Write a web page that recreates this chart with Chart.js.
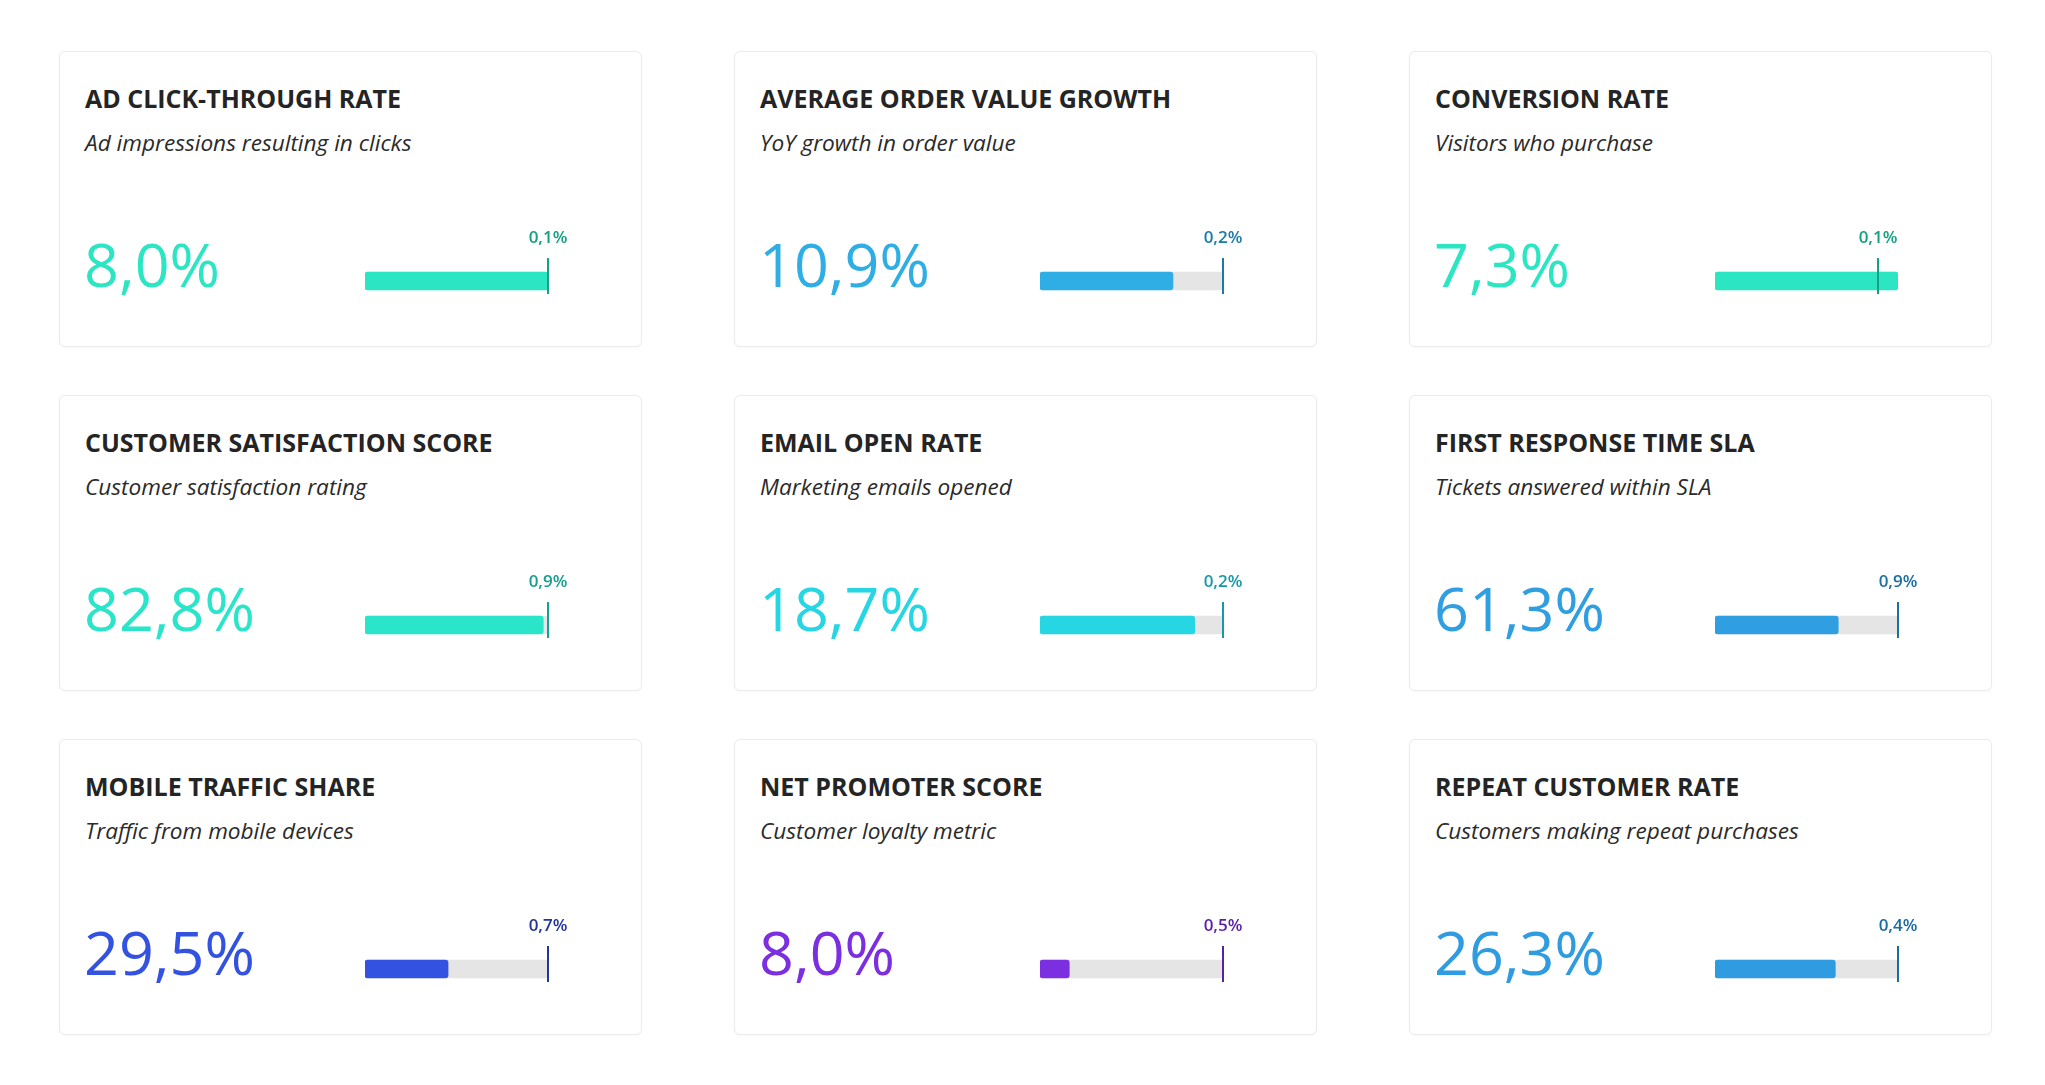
<!DOCTYPE html>
<html>
<head>
<meta charset="utf-8">
<script src="https://cdn.jsdelivr.net/npm/chart.js@4.4.1/dist/chart.umd.min.js"></script>
<style>
  body { margin: 0; background: #fff; font-family: 'Open Sans', sans-serif; }
  #board { position: relative; width: 2045px; height: 1085px; }
  .card {
    position: absolute; width: 581px; height: 294px;
    border: 1px solid #ebebeb; border-radius: 6px; background: #fff;
    box-shadow: 0 1px 2px rgba(0,0,0,0.03);
  }
  .card .title {
    position: absolute; left: 25px; top: 34px; line-height: 1;
    font-size: 25px; font-weight: 700; color: #242424; white-space: nowrap;
  }
  .card .sub {
    position: absolute; left: 25px; top: 80px; line-height: 1;
    font-size: 22.6px; font-style: italic; color: #2a2a2a; white-space: nowrap;
  }
  .card .big {
    position: absolute; left: 24px; top: 181px; line-height: 1;
    font-size: 61px; font-weight: 400; white-space: nowrap;
  }
  .card canvas { position: absolute; left: 290px; top: 170px; }
</style>
</head>
<body>
<div id="board"></div>
<script>
const titles = ['AD CLICK-THROUGH RATE', 'AVERAGE ORDER VALUE GROWTH', 'CONVERSION RATE',
  'CUSTOMER SATISFACTION SCORE', 'EMAIL OPEN RATE', 'FIRST RESPONSE TIME SLA',
  'MOBILE TRAFFIC SHARE', 'NET PROMOTER SCORE', 'REPEAT CUSTOMER RATE']
const subtitles = ['Ad impressions resulting in clicks', 'YoY growth in order value', 'Visitors who purchase',
  'Customer satisfaction rating', 'Marketing emails opened', 'Tickets answered within SLA',
  'Traffic from mobile devices', 'Customer loyalty metric', 'Customers making repeat purchases']
const values = [8.0, 10.9, 7.3, 82.8, 18.7, 61.3, 29.5, 8.0, 26.3]
const targets = [8.0, 15.0, 6.5, 85, 22.1, 91, 65, 50, 40]
const deltas = [0.1, 0.2, 0.1, 0.9, 0.2, 0.9, 0.7, 0.5, 0.4]

const colors = ['#2be5c3', '#2eaee4', '#2be5c3', '#2ae5c9', '#27d6e3', '#2f9fe2', '#3452e1', '#7b2fe1', '#2f9be0']
const darkColors = ['#13a083', '#1a7aa8', '#13a083', '#17a08f', '#1699a6', '#1b6fa5', '#22349e', '#5a1fa8', '#1c6aa3']

const pct = v => v.toFixed(1).replace('.', ',') + '%'

// vertical target line + label, placed with the chart's own x scale
const targetMarker = {
    id: 'targetMarker',
    afterDatasetsDraw(chart, args, opts) {
        const ctx = chart.ctx
        const x = Math.round(chart.scales.x.getPixelForValue(opts.target))
        const c = chart.scales.y.getPixelForValue(0)
        ctx.save()
        ctx.strokeStyle = opts.color
        ctx.lineWidth = 2
        ctx.beginPath()
        ctx.moveTo(x, c - 23)
        ctx.lineTo(x, c + 13)
        ctx.stroke()
        ctx.fillStyle = opts.color
        ctx.font = '600 17px "Open Sans"'
        ctx.textAlign = 'center'
        ctx.textBaseline = 'alphabetic'
        ctx.fillText(opts.label, x, c - 38)
        ctx.restore()
    }
}

const board = document.getElementById('board')
const lefts = [59, 734, 1409]
const tops = [51, 395, 739]

titles.forEach((t, i) => {
    const card = document.createElement('div')
    card.className = 'card'
    card.style.left = lefts[i % 3] + 'px'
    card.style.top = tops[Math.floor(i / 3)] + 'px'
    card.innerHTML = '<div class="title">' + t + '</div>' +
        '<div class="sub">' + subtitles[i] + '</div>' +
        '<div class="big" style="color:' + colors[i] + '">' + pct(values[i]) + '</div>' +
        '<canvas width="240" height="80"></canvas>'
    board.appendChild(card)

    const max = Math.max(values[i], targets[i])
    new Chart(card.querySelector('canvas'), {
        type: 'bar',
        data: {
            labels: [''],
            datasets: [
                {
                    data: [values[i]],
                    backgroundColor: colors[i],
                    barThickness: 18,
                    borderRadius: 3,
                    borderSkipped: false,
                    grouped: false
                }, {
                    data: [max],
                    backgroundColor: '#e5e5e5',
                    barThickness: 18,
                    borderRadius: 3,
                    borderSkipped: false,
                    grouped: false
                }
            ]
        },
        options: {
            indexAxis: 'y',
            responsive: false,
            animation: false,
            layout: { padding: { left: 15, right: 42, top: 40, bottom: 2 } },
            plugins: {
                legend: { display: false },
                tooltip: { enabled: false },
                targetMarker: { target: targets[i], color: darkColors[i], label: pct(deltas[i]) }
            },
            scales: {
                x: { min: 0, max: max, display: false },
                y: { display: false }
            }
        },
        plugins: [targetMarker]
    })
})
</script>
</body>
</html>
